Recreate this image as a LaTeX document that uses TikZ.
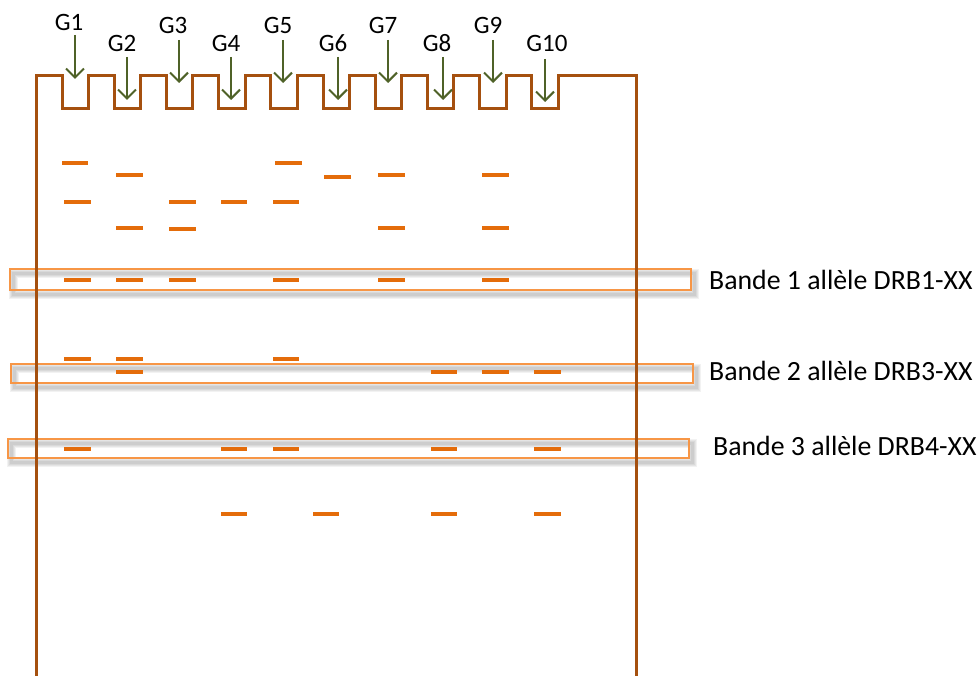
\documentclass[tikz,border=0pt]{standalone}
\usepackage{fontspec}
\setmainfont{Carlito}
\usetikzlibrary{arrows.meta}
\definecolor{gelwall}{HTML}{A5500F}
\definecolor{bandcol}{HTML}{E46C0A}
\definecolor{boxcol}{HTML}{F79646}
\definecolor{arrcol}{HTML}{4F6228}
\tikzset{
  gel/.style={draw=gelwall,line width=3pt,line join=miter},
  band/.style={draw=bandcol,line width=3.4pt},
  allelebox/.style={draw=boxcol,line width=2.4pt},
  boxshadow/.style={draw=black,draw opacity=0.05},
  arr/.style={draw=arrcol,line width=2pt,-{Straight Barb[length=9pt,width=18pt,line width=2pt]}},
  glabel/.style={font=\fontsize{25}{27}\selectfont,inner sep=0pt,text=black},
  blabel/.style={font=\fontsize{27.8}{30}\selectfont,inner sep=0pt,anchor=west,text=black}
}
\begin{document}
\begin{tikzpicture}[x=1pt,y=-1pt]
\useasboundingbox[fill=white] (0,0) rectangle (979,676);
% soft shadows of allele boxes
\foreach \xa/\ya/\xb/\yb in {10/269/691/290,11/364/693/383,8/439/689/458}{
  \foreach \w in {3,5,7,9}{
    \draw[boxshadow,line width=\w pt] (\xa+3,\ya+4) rectangle (\xb+3,\yb+4);
  }
}
% allele boxes
\draw[allelebox] (10,269) rectangle (691,290);
\draw[allelebox] (11,364) rectangle (693,383);
\draw[allelebox] (8,439) rectangle (689,458);
% gel outline with wells
\draw[gel] (36,676) -- (36,76)
  \foreach \i in {0,...,9}{ -- ({62+52.2*\i},76) -- ({62+52.2*\i},109) -- ({88.5+52.2*\i},109) -- ({88.5+52.2*\i},76) }
  -- (636,76) -- (636,676);
% lane labels
\node[glabel] (g1) at (69,22) {G1};
\node[glabel] (g2) at (122,43) {G2};
\node[glabel] (g3) at (173,25) {G3};
\node[glabel] (g4) at (226,43) {G4};
\node[glabel] (g5) at (278,25) {G5};
\node[glabel] (g6) at (333,43) {G6};
\node[glabel] (g7) at (383,25) {G7};
\node[glabel] (g8) at (437,43) {G8};
\node[glabel] (g9) at (488,25) {G9};
\node[glabel] (g10) at (547,43) {G10};
% arrows
\foreach \n/\x/\ya/\yb in {1/75/35/79,2/127/57/100,3/179/40/83,4/231/57/100,5/283/40/83,6/338/57/100,7/388/40/83,8/443/57/100,9/493/40/83,10/545/59/102}{
  \coordinate (s\n) at (\x,\ya);
  \coordinate (e\n) at (\x,\yb);
  \draw[arr] (s\n) -- (e\n);
}
% bands
\foreach \a/\b/\y in {62/88/163,116/143/175,275/302/163,324/351/177,378/405/175,482/509/175,
  64/91/202,169/196/202,221/247/202,273/299/202,
  116/143/228,169/196/229,378/405/228,482/509/228,
  64/91/280,116/143/280,169/196/280,273/299/280,378/405/280,482/509/280,
  64/91/359,116/143/359,273/299/359,
  116/143/372,431/457/372,482/509/372,534/561/372,
  64/91/449,221/247/449,273/299/449,431/457/449,534/561/449,
  221/247/514,313/339/514,431/457/514,534/561/514}{
  \draw[band] (\a,\y) -- (\b,\y);
}
% band labels
\node[blabel] (l1) at (709,280) {Bande 1 allèle DRB1-XX};
\node[blabel] (l2) at (709,371) {Bande 2 allèle DRB3-XX};
\node[blabel] (l3) at (713,446) {Bande 3 allèle DRB4-XX};
\end{tikzpicture}
\end{document}
